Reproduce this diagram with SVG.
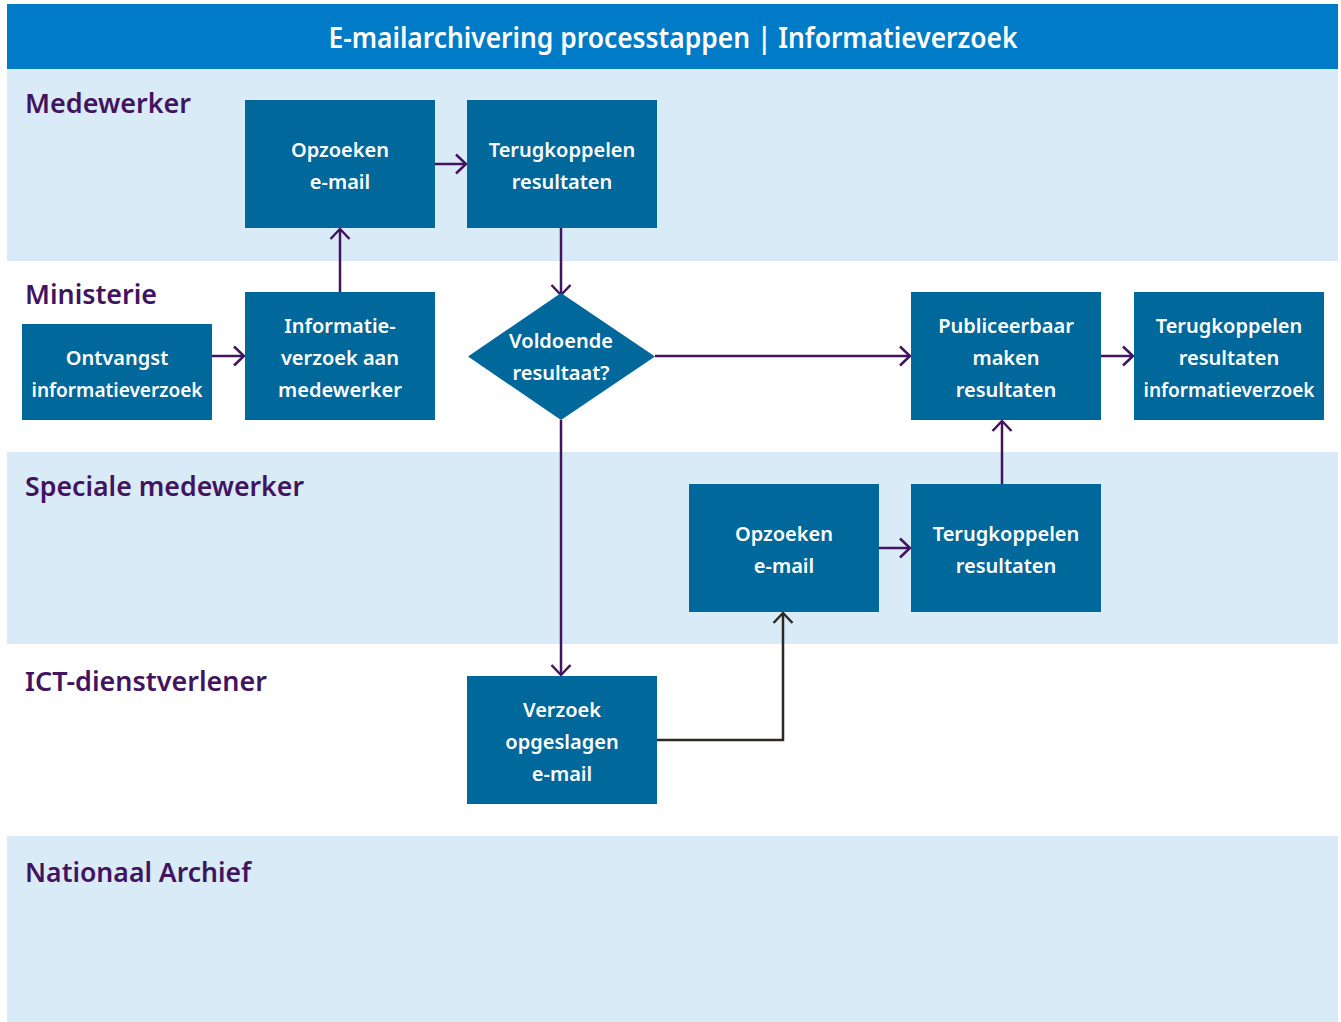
<svg xmlns="http://www.w3.org/2000/svg" width="1341" height="1022" viewBox="0 0 1341 1022">
<style>
.lane-a{fill:#D9EBF7}
.lane-b{fill:#FFFFFF}
.lbl{font-family:"Noto Sans","Open Sans",sans-serif;font-weight:600;font-size:27px;fill:#42145F}
.box{fill:#01689B}
.t{font-family:"Noto Sans","Open Sans",sans-serif;font-weight:600;font-size:20px;fill:#FFFFFF;text-anchor:middle}
.title{font-family:"Noto Sans","Open Sans",sans-serif;font-weight:600;font-size:28px;fill:#FFFFFF;text-anchor:middle}
.c{fill:none;stroke:#42145F;stroke-width:2.5}
.c2{fill:none;stroke:#2D2A26;stroke-width:2.5}
</style>
<defs>
<marker id="ah" markerUnits="userSpaceOnUse" markerWidth="24" markerHeight="24" refX="12" refY="12" orient="auto">
<path d="M2,2.5 L12,12 L2,21.5" fill="none" stroke="#42145F" stroke-width="2.5"/>
</marker>
<marker id="ah2" markerUnits="userSpaceOnUse" markerWidth="24" markerHeight="24" refX="12" refY="12" orient="auto">
<path d="M2,2.5 L12,12 L2,21.5" fill="none" stroke="#2D2A26" stroke-width="2.5"/>
</marker>
</defs>
<rect x="0" y="0" width="1341" height="1022" fill="#FFFFFF"/>
<g id="lanes">
<rect class="lane-a" x="7" y="69" width="1331" height="192"/>
<rect class="lane-b" x="7" y="261" width="1331" height="191"/>
<rect class="lane-a" x="7" y="452" width="1331" height="192"/>
<rect class="lane-b" x="7" y="644" width="1331" height="192"/>
<rect class="lane-a" x="7" y="836" width="1331" height="186"/>
<text class="lbl" x="25" y="113" textLength="166" lengthAdjust="spacingAndGlyphs">Medewerker</text>
<text class="lbl" x="25" y="304" textLength="132" lengthAdjust="spacingAndGlyphs">Ministerie</text>
<text class="lbl" x="25" y="496" textLength="279" lengthAdjust="spacingAndGlyphs">Speciale medewerker</text>
<text class="lbl" x="25" y="691" textLength="242" lengthAdjust="spacingAndGlyphs">ICT-dienstverlener</text>
<text class="lbl" x="25" y="882" textLength="226" lengthAdjust="spacingAndGlyphs">Nationaal Archief</text>
</g>
<g id="header">
<rect x="7" y="4" width="1331" height="65" fill="#007BC7"/>
<text class="title" x="673" y="48" textLength="689" lengthAdjust="spacingAndGlyphs">E-mailarchivering processtappen | Informatieverzoek</text>
</g>
<g id="connectors">
<path class="c" d="M435,164 H466" marker-end="url(#ah)"/>
<path class="c" d="M340,292 V229" marker-end="url(#ah)"/>
<path class="c" d="M561,228 V295" marker-end="url(#ah)"/>
<path class="c" d="M212,356 H244" marker-end="url(#ah)"/>
<path class="c" d="M655,356 H910" marker-end="url(#ah)"/>
<path class="c" d="M1101,356 H1133" marker-end="url(#ah)"/>
<path class="c" d="M561,420 V675" marker-end="url(#ah)"/>
<path class="c2" d="M657,740 H783 V613" marker-end="url(#ah2)"/>
<path class="c" d="M879,548 H910" marker-end="url(#ah)"/>
<path class="c" d="M1002,484 V421" marker-end="url(#ah)"/>
</g>
<g id="n-opzoeken1">
<rect class="box" x="245" y="100" width="190" height="128"/>
<text class="t" x="340" y="157">Opzoeken</text>
<text class="t" x="340" y="189">e-mail</text>
</g>
<g id="n-terug1">
<rect class="box" x="467" y="100" width="190" height="128"/>
<text class="t" x="562" y="157">Terugkoppelen</text>
<text class="t" x="562" y="189">resultaten</text>
</g>
<g id="n-ontvangst">
<rect class="box" x="22" y="324" width="190" height="96"/>
<text class="t" x="117" y="365">Ontvangst</text>
<text class="t" x="117" y="397" textLength="171" lengthAdjust="spacingAndGlyphs">informatieverzoek</text>
</g>
<g id="n-informatie">
<rect class="box" x="245" y="292" width="190" height="128"/>
<text class="t" x="340" y="333">Informatie-</text>
<text class="t" x="340" y="365">verzoek aan</text>
<text class="t" x="340" y="397">medewerker</text>
</g>
<g id="n-voldoende">
<polygon class="box" points="561,293 655,356.5 561,420 468,356.5"/>
<text class="t" x="561" y="348">Voldoende</text>
<text class="t" x="561" y="380">resultaat?</text>
</g>
<g id="n-publiceerbaar">
<rect class="box" x="911" y="292" width="190" height="128"/>
<text class="t" x="1006" y="333">Publiceerbaar</text>
<text class="t" x="1006" y="365">maken</text>
<text class="t" x="1006" y="397">resultaten</text>
</g>
<g id="n-terug-info">
<rect class="box" x="1134" y="292" width="190" height="128"/>
<text class="t" x="1229" y="333">Terugkoppelen</text>
<text class="t" x="1229" y="365">resultaten</text>
<text class="t" x="1229" y="397" textLength="171" lengthAdjust="spacingAndGlyphs">informatieverzoek</text>
</g>
<g id="n-opzoeken2">
<rect class="box" x="689" y="484" width="190" height="128"/>
<text class="t" x="784" y="541">Opzoeken</text>
<text class="t" x="784" y="573">e-mail</text>
</g>
<g id="n-terug2">
<rect class="box" x="911" y="484" width="190" height="128"/>
<text class="t" x="1006" y="541">Terugkoppelen</text>
<text class="t" x="1006" y="573">resultaten</text>
</g>
<g id="n-verzoek">
<rect class="box" x="467" y="676" width="190" height="128"/>
<text class="t" x="562" y="717">Verzoek</text>
<text class="t" x="562" y="749">opgeslagen</text>
<text class="t" x="562" y="781">e-mail</text>
</g>
</svg>
